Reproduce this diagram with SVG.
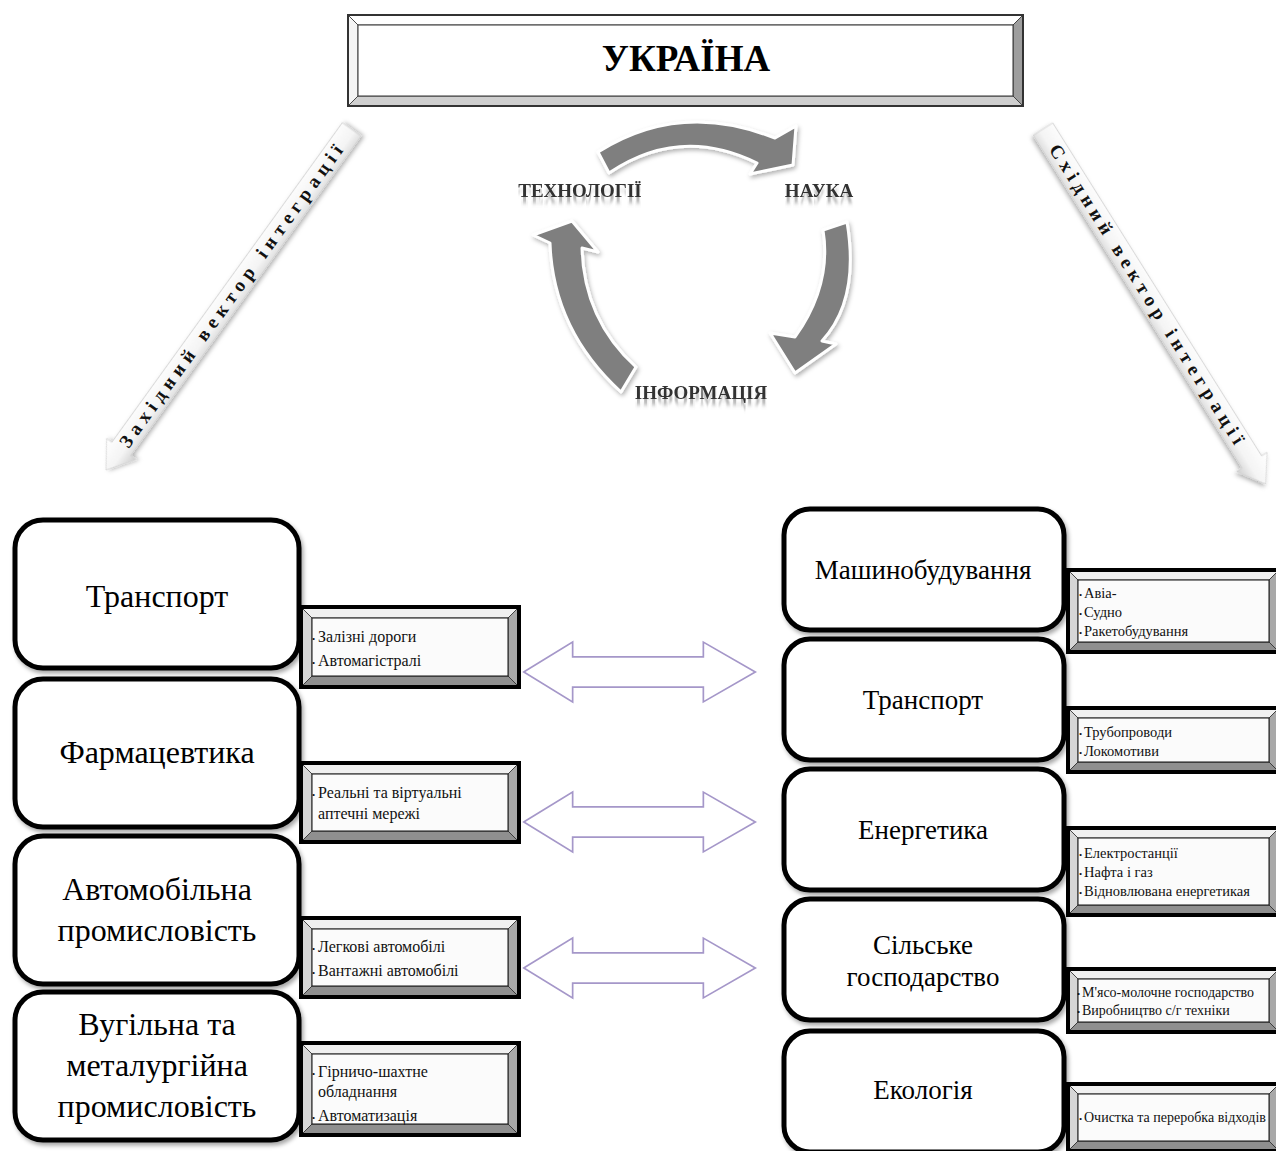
<svg xmlns="http://www.w3.org/2000/svg" width="1276" height="1151" viewBox="0 0 1276 1151">
  <style>
    .serif { font-family: "Liberation Serif", "Times New Roman", serif; }
    .big { fill: #ffffff; stroke: #000000; stroke-width: 5; filter: url(#boxShadow); }
    .ltxt { font-family: "Liberation Serif", "Times New Roman", serif; font-size: 32px; text-anchor: middle; fill: #000; }
    .rtxt { font-family: "Liberation Serif", "Times New Roman", serif; font-size: 27px; text-anchor: middle; fill: #000; }
    .frame { fill: none; stroke: #000; stroke-width: 4; }
    .bv-top { fill: #f0f0f0; stroke: #222; stroke-width: 0.7; }
    .bv-left { fill: #d6d6d6; stroke: #222; stroke-width: 0.7; }
    .bv-right { fill: #a8a8a8; stroke: #222; stroke-width: 0.7; }
    .bv-bottom { fill: #8f8f8f; stroke: #222; stroke-width: 0.7; }
    .panel { fill: #fbfbfb; stroke: #111; stroke-width: 1; }
    .st { font-family: "Liberation Serif", "Times New Roman", serif; font-size: 16px; fill: #111; }
    .sr { font-family: "Liberation Serif", "Times New Roman", serif; font-size: 14.5px; fill: #111; }
    .sr.small { font-size: 14px; }
    .sr.mid { font-size: 14px; }
    .dot { font-size: 9px; }
    .cyc { fill: #7f7f7f; stroke: #ffffff; stroke-width: 3; stroke-linejoin: round; filter: url(#softShadow); }
    .cyclbl { font-family: "Liberation Serif", "Times New Roman", serif; font-weight: bold; font-size: 19px; text-anchor: middle; fill: #333; filter: url(#reflect); }
    .dbl-out { fill: none; stroke: #a597c9; stroke-width: 5; stroke-linejoin: miter; }
    .dbl-in { fill: #ffffff; stroke: #ffffff; stroke-width: 1.6; stroke-linejoin: miter; }
    .vec { fill: url(#barGrad); stroke: #d0d0d0; stroke-width: 0.8; filter: url(#softShadow); }
    .vectxt { font-family: "Liberation Serif", "Times New Roman", serif; font-weight: bold; font-size: 19px; fill: #111; }
  </style>
  <defs>
    <filter id="boxShadow" x="-10%" y="-10%" width="125%" height="130%">
      <feDropShadow dx="2" dy="3" stdDeviation="2" flood-color="#000" flood-opacity="0.35"/>
    </filter>
    <filter id="softShadow" x="-20%" y="-20%" width="140%" height="140%">
      <feDropShadow dx="1.5" dy="2.5" stdDeviation="2" flood-color="#000" flood-opacity="0.3"/>
    </filter>
    <!-- soft mirrored glow under the cycle labels -->
    <filter id="reflect" x="-5%" y="-30%" width="110%" height="200%">
      <feOffset in="SourceAlpha" dy="6" result="off"/>
      <feGaussianBlur in="off" stdDeviation="0.6 2.2" result="blur"/>
      <feFlood flood-color="#8a8a8a" flood-opacity="0.6"/>
      <feComposite in2="blur" operator="in" result="shade"/>
      <feMerge>
        <feMergeNode in="shade"/>
        <feMergeNode in="SourceGraphic"/>
      </feMerge>
    </filter>
    <linearGradient id="barGrad" x1="0" y1="0" x2="0" y2="1">
      <stop offset="0" stop-color="#ffffff"/>
      <stop offset="0.6" stop-color="#f4f4f4"/>
      <stop offset="1" stop-color="#cfcfcf"/>
    </linearGradient>
  </defs>

  <rect width="1276" height="1151" fill="#ffffff"/>

  <!-- title plate -->
  <g id="ukraine" transform="translate(348,15)">
    <polygon points="0,0 675,0 665,10 10,10" fill="#ffffff" stroke="#333" stroke-width="0.8"/>
    <polygon points="0,0 10,10 10,81 0,91" fill="#f4f4f4" stroke="#333" stroke-width="0.8"/>
    <polygon points="675,0 675,91 665,81 665,10" fill="#9e9e9e" stroke="#333" stroke-width="0.8"/>
    <polygon points="0,91 10,81 665,81 675,91" fill="#cfcfcf" stroke="#333" stroke-width="0.8"/>
    <rect x="10" y="10" width="655" height="71" fill="#ffffff" stroke="#333" stroke-width="1"/>
    <rect x="0" y="0" width="675" height="91" fill="none" stroke="#333" stroke-width="2"/>
    <text x="338" y="56" class="serif" font-weight="bold" font-size="37" text-anchor="middle" fill="#000">УКРАЇНА</text>
  </g>

  <!-- arrows: cycle, integration vectors, exchange arrows -->
  <g id="connectors">
    <path class="cyc" d="M598,152 Q680,100 775,138 L796,126 L793,165 L750,174 L757,163 Q680,125 609,173 Z"/>
    <path class="cyc" d="M847,222 Q860,300 822,341 L836,344 L795,373 L770,333 L795,337 Q832,285 823,230 Z"/>
    <path class="cyc" d="M621,392 Q553,330 550,243 L533,235 L572,221 L598,252 L582,248 Q584,320 636,367 Z"/>

    <g id="west-vector" transform="translate(106,470) rotate(-54.2)">
      <path class="vec" d="M0,0 L26,-18 L26,-11.5 L420,-11.5 L420,11.5 L26,11.5 L26,18 Z"/>
      <text class="vectxt" x="30" y="6" textLength="368" lengthAdjust="spacing">Західний вектор інтеграції</text>
    </g>
    <g id="east-vector" transform="translate(1043,129) rotate(57.9)">
      <path class="vec" d="M0,-11.5 L393,-11.5 L393,-18 L419,0 L393,18 L393,11.5 L0,11.5 Z"/>
      <text class="vectxt" x="20" y="6" textLength="350" lengthAdjust="spacing">Східний вектор інтеграції</text>
    </g>

    <g transform="translate(0,672)">
      <polygon class="dbl-out" points="527,0 571,-27 571,-13.5 705,-13.5 705,-27 752,0 705,27 705,13.5 571,13.5 571,27"/>
      <polygon class="dbl-in" points="527,0 571,-27 571,-13.5 705,-13.5 705,-27 752,0 705,27 705,13.5 571,13.5 571,27"/>
    </g>
    <g transform="translate(0,822)">
      <polygon class="dbl-out" points="527,0 571,-27 571,-13.5 705,-13.5 705,-27 752,0 705,27 705,13.5 571,13.5 571,27"/>
      <polygon class="dbl-in" points="527,0 571,-27 571,-13.5 705,-13.5 705,-27 752,0 705,27 705,13.5 571,13.5 571,27"/>
    </g>
    <g transform="translate(0,968)">
      <polygon class="dbl-out" points="527,0 571,-27 571,-13.5 705,-13.5 705,-27 752,0 705,27 705,13.5 571,13.5 571,27"/>
      <polygon class="dbl-in" points="527,0 571,-27 571,-13.5 705,-13.5 705,-27 752,0 705,27 705,13.5 571,13.5 571,27"/>
    </g>
  </g>

  <!-- cycle labels -->
  <g id="technology">
    <text class="cyclbl" x="580" y="197">ТЕХНОЛОГІЇ</text>
  </g>
  <g id="science">
    <text class="cyclbl" x="819" y="197">НАУКА</text>
  </g>
  <g id="information">
    <text class="cyclbl" x="701" y="399">ІНФОРМАЦІЯ</text>
  </g>

  <!-- western sectors -->
  <g id="w-transport">
    <rect class="big" x="15" y="520" width="284" height="148" rx="28"/>
    <text class="ltxt" x="157" y="607">Транспорт</text>
  </g>
  <g id="w-pharma">
    <rect class="big" x="15" y="679" width="284" height="148" rx="28"/>
    <text class="ltxt" x="157" y="763">Фармацевтика</text>
  </g>
  <g id="w-auto">
    <rect class="big" x="15" y="836" width="284" height="148" rx="28"/>
    <text class="ltxt" x="157" y="900">Автомобільна</text>
    <text class="ltxt" x="157" y="941">промисловість</text>
  </g>
  <g id="w-metal">
    <rect class="big" x="15" y="992" width="284" height="148" rx="28"/>
    <text class="ltxt" x="157" y="1035">Вугільна та</text>
    <text class="ltxt" x="157" y="1076">металургійна</text>
    <text class="ltxt" x="157" y="1117">промисловість</text>
  </g>

  <g id="w-transport-items" transform="translate(301,607)">
    <polygon class="bv-top" points="0,0 218,0 207,11 11,11"/>
    <polygon class="bv-left" points="0,0 11,11 11,69 0,80"/>
    <polygon class="bv-right" points="218,0 218,80 207,69 207,11"/>
    <polygon class="bv-bottom" points="0,80 11,69 207,69 218,80"/>
    <rect class="panel" x="11" y="11" width="196" height="58"/>
    <rect class="frame" x="0" y="0" width="218" height="80"/>
    <text class="st" x="11" y="35"><tspan class="dot">•</tspan><tspan x="17">Залізні дороги</tspan></text>
    <text class="st" x="11" y="59"><tspan class="dot">•</tspan><tspan x="17">Автомагістралі</tspan></text>
  </g>
  <g id="w-pharma-items" transform="translate(301,763)">
    <polygon class="bv-top" points="0,0 218,0 207,11 11,11"/>
    <polygon class="bv-left" points="0,0 11,11 11,68 0,79"/>
    <polygon class="bv-right" points="218,0 218,79 207,68 207,11"/>
    <polygon class="bv-bottom" points="0,79 11,68 207,68 218,79"/>
    <rect class="panel" x="11" y="11" width="196" height="57"/>
    <rect class="frame" x="0" y="0" width="218" height="79"/>
    <text class="st" x="11" y="35"><tspan class="dot">•</tspan><tspan x="17">Реальні та віртуальні</tspan></text>
    <text class="st" x="17" y="56">аптечні мережі</text>
  </g>
  <g id="w-auto-items" transform="translate(301,918)">
    <polygon class="bv-top" points="0,0 218,0 207,11 11,11"/>
    <polygon class="bv-left" points="0,0 11,11 11,68 0,79"/>
    <polygon class="bv-right" points="218,0 218,79 207,68 207,11"/>
    <polygon class="bv-bottom" points="0,79 11,68 207,68 218,79"/>
    <rect class="panel" x="11" y="11" width="196" height="57"/>
    <rect class="frame" x="0" y="0" width="218" height="79"/>
    <text class="st" x="11" y="34"><tspan class="dot">•</tspan><tspan x="17">Легкові автомобілі</tspan></text>
    <text class="st" x="11" y="58"><tspan class="dot">•</tspan><tspan x="17">Вантажні  автомобілі</tspan></text>
  </g>
  <g id="w-metal-items" transform="translate(301,1043)">
    <polygon class="bv-top" points="0,0 218,0 207,11 11,11"/>
    <polygon class="bv-left" points="0,0 11,11 11,81 0,92"/>
    <polygon class="bv-right" points="218,0 218,92 207,81 207,11"/>
    <polygon class="bv-bottom" points="0,92 11,81 207,81 218,92"/>
    <rect class="panel" x="11" y="11" width="196" height="70"/>
    <rect class="frame" x="0" y="0" width="218" height="92"/>
    <text class="st" x="11" y="34"><tspan class="dot">•</tspan><tspan x="17">Гірничо-шахтне</tspan></text>
    <text class="st" x="17" y="54">обладнання</text>
    <text class="st" x="11" y="78"><tspan class="dot">•</tspan><tspan x="17">Автоматизація</tspan></text>
  </g>

  <!-- eastern sectors -->
  <g id="e-machinery">
    <rect class="big" x="784" y="509" width="280" height="121" rx="26"/>
    <text class="rtxt" x="923" y="579">Машинобудування</text>
  </g>
  <g id="e-transport">
    <rect class="big" x="784" y="639" width="280" height="121" rx="26"/>
    <text class="rtxt" x="923" y="709">Транспорт</text>
  </g>
  <g id="e-energy">
    <rect class="big" x="784" y="769" width="280" height="121" rx="26"/>
    <text class="rtxt" x="923" y="839">Енергетика</text>
  </g>
  <g id="e-agriculture">
    <rect class="big" x="784" y="899" width="280" height="121" rx="26"/>
    <text class="rtxt" x="923" y="954">Сільське</text>
    <text class="rtxt" x="923" y="986">господарство</text>
  </g>
  <g id="e-ecology">
    <rect class="big" x="784" y="1031" width="280" height="121" rx="26"/>
    <text class="rtxt" x="923" y="1099">Екологія</text>
  </g>

  <g id="e-machinery-items" transform="translate(1068,570)">
    <polygon class="bv-top" points="0,0 211,0 201,10 10,10"/>
    <polygon class="bv-left" points="0,0 10,10 10,72 0,82"/>
    <polygon class="bv-right" points="211,0 211,82 201,72 201,10"/>
    <polygon class="bv-bottom" points="0,82 10,72 201,72 211,82"/>
    <rect class="panel" x="10" y="10" width="191" height="62"/>
    <rect class="frame" x="0" y="0" width="211" height="82"/>
    <text class="sr" x="11" y="28"><tspan class="dot">•</tspan><tspan x="16">Авіа-</tspan></text>
    <text class="sr" x="11" y="47"><tspan class="dot">•</tspan><tspan x="16">Судно</tspan></text>
    <text class="sr" x="11" y="66"><tspan class="dot">•</tspan><tspan x="16">Ракетобудування</tspan></text>
  </g>
  <g id="e-transport-items" transform="translate(1068,708)">
    <polygon class="bv-top" points="0,0 211,0 201,10 10,10"/>
    <polygon class="bv-left" points="0,0 10,10 10,54 0,64"/>
    <polygon class="bv-right" points="211,0 211,64 201,54 201,10"/>
    <polygon class="bv-bottom" points="0,64 10,54 201,54 211,64"/>
    <rect class="panel" x="10" y="10" width="191" height="44"/>
    <rect class="frame" x="0" y="0" width="211" height="64"/>
    <text class="sr" x="11" y="29"><tspan class="dot">•</tspan><tspan x="16">Трубопроводи</tspan></text>
    <text class="sr" x="11" y="48"><tspan class="dot">•</tspan><tspan x="16">Локомотиви</tspan></text>
  </g>
  <g id="e-energy-items" transform="translate(1068,828)">
    <polygon class="bv-top" points="0,0 211,0 201,10 10,10"/>
    <polygon class="bv-left" points="0,0 10,10 10,77 0,87"/>
    <polygon class="bv-right" points="211,0 211,87 201,77 201,10"/>
    <polygon class="bv-bottom" points="0,87 10,77 201,77 211,87"/>
    <rect class="panel" x="10" y="10" width="191" height="67"/>
    <rect class="frame" x="0" y="0" width="211" height="87"/>
    <text class="sr" x="11" y="30"><tspan class="dot">•</tspan><tspan x="16">Електростанції</tspan></text>
    <text class="sr" x="11" y="49"><tspan class="dot">•</tspan><tspan x="16">Нафта і газ</tspan></text>
    <text class="sr" x="11" y="68"><tspan class="dot">•</tspan><tspan x="16">Відновлювана енергетикая</tspan></text>
  </g>
  <g id="e-agriculture-items" transform="translate(1068,969)">
    <polygon class="bv-top" points="0,0 211,0 201,10 10,10"/>
    <polygon class="bv-left" points="0,0 10,10 10,53 0,63"/>
    <polygon class="bv-right" points="211,0 211,63 201,53 201,10"/>
    <polygon class="bv-bottom" points="0,63 10,53 201,53 211,63"/>
    <rect class="panel" x="10" y="10" width="191" height="43"/>
    <rect class="frame" x="0" y="0" width="211" height="63"/>
    <text class="sr mid" x="9" y="28"><tspan class="dot">•</tspan><tspan x="14">М'ясо-молочне господарство</tspan></text>
    <text class="sr mid" x="9" y="46"><tspan class="dot">•</tspan><tspan x="14">Виробництво  с/г техніки</tspan></text>
  </g>
  <g id="e-ecology-items" transform="translate(1068,1084)">
    <polygon class="bv-top" points="0,0 211,0 201,10 10,10"/>
    <polygon class="bv-left" points="0,0 10,10 10,57 0,67"/>
    <polygon class="bv-right" points="211,0 211,67 201,57 201,10"/>
    <polygon class="bv-bottom" points="0,67 10,57 201,57 211,67"/>
    <rect class="panel" x="10" y="10" width="191" height="47"/>
    <rect class="frame" x="0" y="0" width="211" height="67"/>
    <text class="sr small" x="11" y="38"><tspan class="dot">•</tspan><tspan x="16">Очистка та переробка відходів</tspan></text>
  </g>
</svg>
